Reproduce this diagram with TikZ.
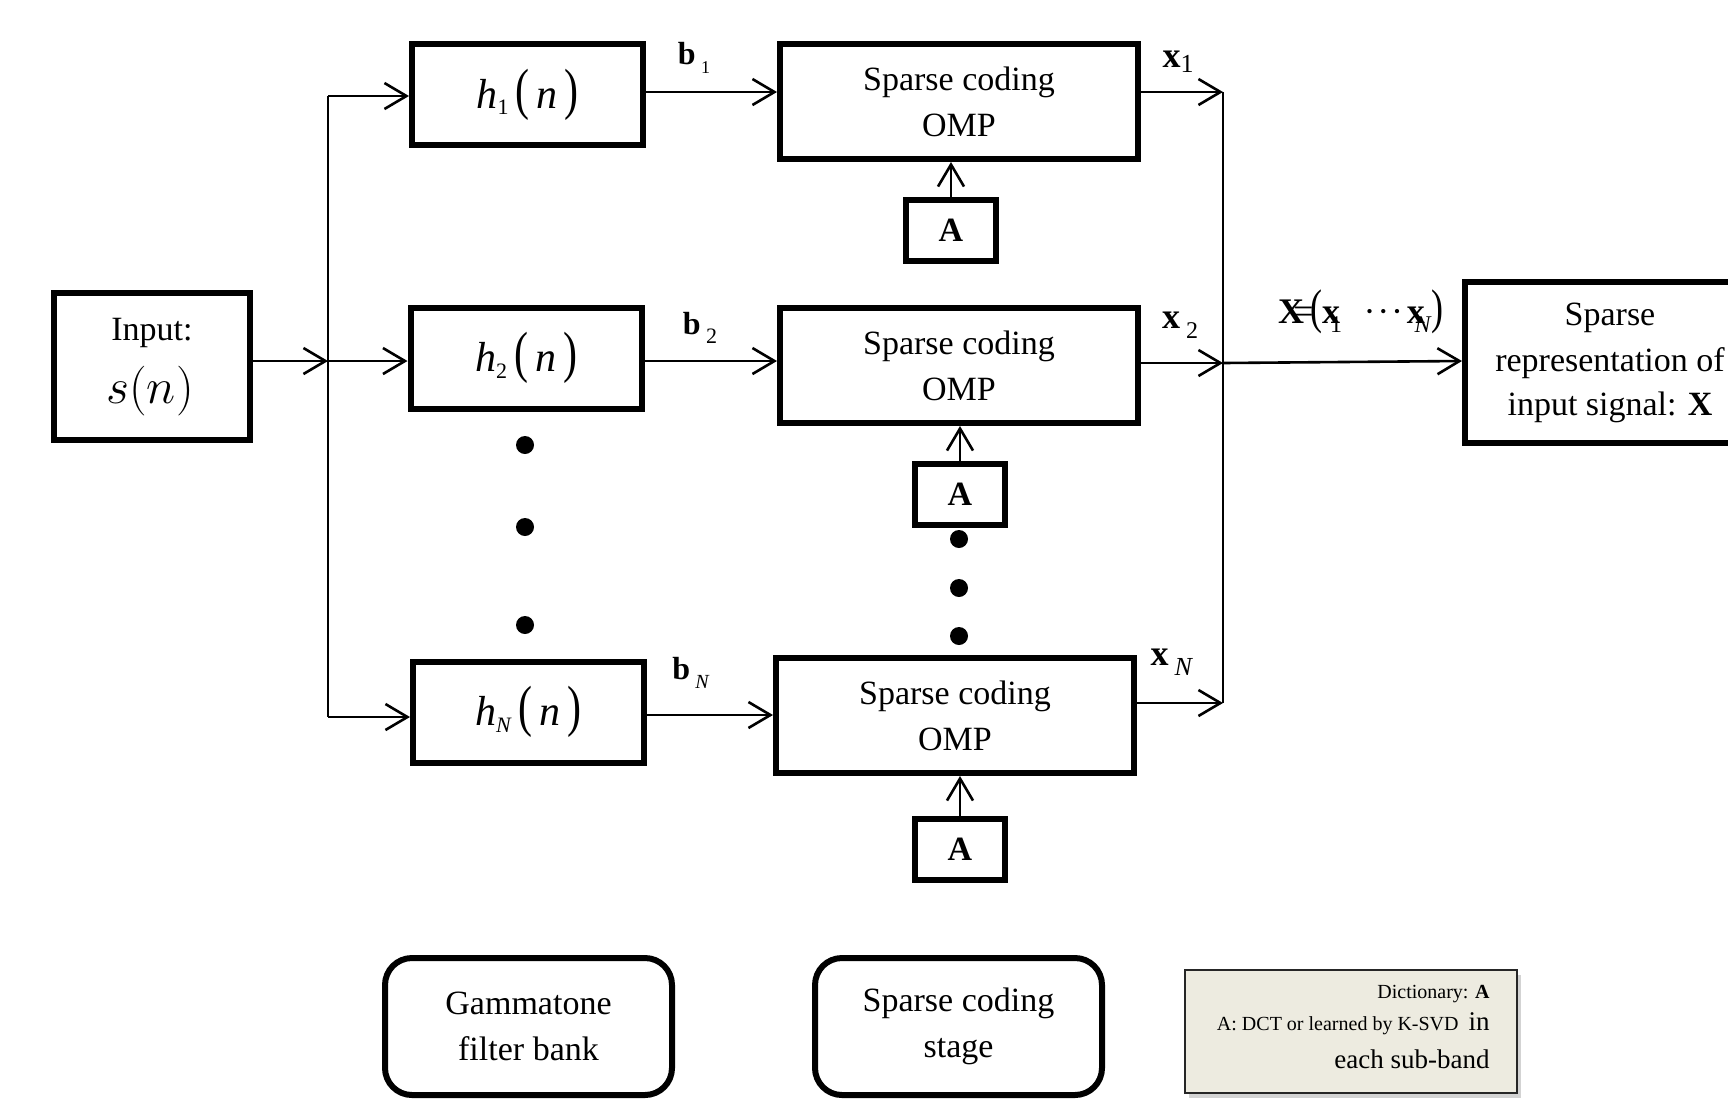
\documentclass[tikz,border=0pt]{standalone}
\usepackage{fontspec}
\usepackage{graphicx}
\setmainfont{Liberation Serif}
\usetikzlibrary{arrows.meta,shadows}
\definecolor{dictfill}{RGB}{237,235,224}
\newcommand{\fsz}[1]{\fontsize{#1}{#1}\selectfont}
\newcommand{\hlab}[1]{{\fsz{21}\textit{h}\raisebox{-0.35ex}{\fsz{11}#1}\,\scalebox{1}[1.35]{(}\,\textit{n}\,\scalebox{1}[1.35]{)}}}
\begin{document}
\begin{tikzpicture}[x=0.5pt,y=-0.5pt,
  blk/.style={draw,line width=3pt,rectangle,inner sep=0pt,align=center,font=\fsz{17}},
  abox/.style={draw,line width=3pt,rectangle,inner sep=0pt,minimum width=45pt,minimum height=30.5pt,font=\fsz{17}\bfseries},
  rbox/.style={draw,line width=3pt,rounded corners=13.5pt,inner sep=0pt,minimum width=143.5pt,minimum height=68.5pt,align=center,font=\fsz{17}},
  arr/.style={line width=1.3pt,-{Straight Barb[length=11pt,width=13pt,line width=1.3pt]}},
  bus/.style={line width=1pt},
  dot/.style={circle,fill,inner sep=0pt,minimum size=9pt},
  lbl/.style={inner sep=0pt,font=\fsz{17}}]
\useasboundingbox (0,0) rectangle (1728,1099);
\clip (0,0) rectangle (1728,1099);

% input
\node[blk,minimum width=98pt,minimum height=73.5pt] (in) at (152,366.5) {};
\node[lbl] (intxt) at (152,333) {Input:};
\node[lbl,font=\fsz{24}] (sn) at (150,391) {$s(n)$};

% filter boxes
\node[blk,minimum width=115.5pt,minimum height=50.5pt] (h1) at (527.5,94.5) {\hlab{1}};
\node[blk,minimum width=115.5pt,minimum height=50.5pt] (h2) at (526,358) {\hlab{2}};
\node[blk,minimum width=115.5pt,minimum height=50.5pt] (hN) at (528.5,712) {\hlab{\textit{N}}};

% sparse coding boxes
\node[blk,minimum width=179pt,minimum height=57.5pt] (s1) at (959,101.5) {Sparse coding\\[6pt]OMP};
\node[blk,minimum width=179pt,minimum height=57.5pt] (s2) at (959,365.5) {Sparse coding\\[6pt]OMP};
\node[blk,minimum width=179pt,minimum height=57.5pt] (sN) at (955,715.5) {Sparse coding\\[6pt]OMP};

% dictionary boxes
\node[abox] (a1) at (951,230.5) {A};
\node[abox] (a2) at (960,494.5) {A};
\node[abox] (aN) at (960,849) {A};

% output box
\node[blk,minimum width=137.5pt,minimum height=80.5pt] (out) at (1602.5,362.5) {};
\node[lbl] (o1) at (1610,318) {Sparse};
\node[lbl] (o2) at (1610,363) {representation of};
\node[lbl] (o3) at (1610,407) {input signal: \textbf{X}};

% dots
\node[dot] (d1) at (525,445) {};
\node[dot] (d2) at (525,527) {};
\node[dot] (d3) at (525,625) {};
\node[dot] (e1) at (959,539) {};
\node[dot] (e2) at (959,588) {};
\node[dot] (e3) at (959,636) {};

% bus coordinates
\coordinate (bT) at (328,96);
\coordinate (bM) at (328,361);
\coordinate (bB) at (328,717);
\coordinate (r1) at (1223,92);
\coordinate (r2) at (1223,363);
\coordinate (rN) at (1223,703);

\draw[bus] (bT) -- (bB);
\draw[bus] (r1) -- (rN);
\draw[arr] (in.east |- bM) -- (bM);
\draw[arr] (bT) -- (bT -| h1.west);
\draw[arr] (bM) -- (bM -| h2.west);
\draw[arr] (bB) -- (bB -| hN.west);

\draw[arr] (h1.east |- 0,92) -- (s1.west |- 0,92);
\draw[arr] (h2.east |- 0,361) -- (s2.west |- 0,361);
\draw[arr] (hN.east |- 0,715) -- (sN.west |- 0,715);

\draw[arr] (s1.east |- r1) -- (r1);
\draw[arr] (s2.east |- r2) -- (r2);
\draw[arr] (sN.east |- rN) -- (rN);
\draw[arr] (r2) -- (out.west |- 0,361);

\draw[arr] (a1.north) -- (a1.north |- s1.south);
\draw[arr] (a2.north) -- (a2.north |- s2.south);
\draw[arr] (aN.north) -- (aN.north |- sN.south);

% labels
\node[lbl,font=\fsz{16}] (lb1) at (694,58) {\textbf{b}\,\raisebox{-0.6ex}{\fsz{9}1}};
\node[lbl,font=\fsz{16}] (lb2) at (700,328) {\textbf{b}\,\raisebox{-0.6ex}{\fsz{11}2}};
\node[lbl,font=\fsz{16}] (lbN) at (691,673) {\textbf{b}\,\raisebox{-0.6ex}{\fsz{10}\textit{N}}};
\node[lbl,font=\fsz{18}] (lx1) at (1178,62) {\textbf{x}\raisebox{-0.3ex}{\fsz{13}1}};
\node[lbl,font=\fsz{18}] (lx2) at (1180,325) {\textbf{x}\,\raisebox{-0.6ex}{\fsz{12}2}};
\node[lbl,font=\fsz{18}] (lxN) at (1172,662) {\textbf{x}\,\raisebox{-0.6ex}{\fsz{13}\textit{N}}};
\node[lbl,font=\fsz{18}] (lX) at (1361,312) {\textbf{X}\kern-0.3em=\kern-0.1em\scalebox{1}[1.35]{(}\textbf{x}\kern-0.28em\raisebox{-0.55ex}{\fsz{12}1}\kern0.6em·\kern0.05em·\kern0.05em·\kern0.1em\textbf{x}\kern-0.28em\raisebox{-0.55ex}{\fsz{12}\textit{N}}\scalebox{1}[1.35]{)}};

% legend boxes
\node[rbox] (g) at (528.5,1026.5) {Gammatone\\[6pt]filter bank};
\node[rbox] (sc) at (958.5,1026.5) {Sparse coding\\[6pt]stage};
\node[draw=black!85,line width=1pt,fill=dictfill,minimum width=166pt,minimum height=61.5pt,inner sep=0pt,
  drop shadow={shadow xshift=2pt,shadow yshift=-2.5pt,opacity=0.35}] (dict) at (1351,1031.5) {};
\node[lbl,font=\fsz{10},anchor=east] (dt1) at (1490,994) {Dictionary: \textbf{A}};
\node[lbl,font=\fsz{10},anchor=east] (dt2) at (1490,1024) {A: DCT or learned by K-SVD\ \ {\fsz{13.5}in}};
\node[lbl,font=\fsz{13.5},anchor=east] (dt3) at (1490,1059) {each sub-band};
\end{tikzpicture}
\end{document}
